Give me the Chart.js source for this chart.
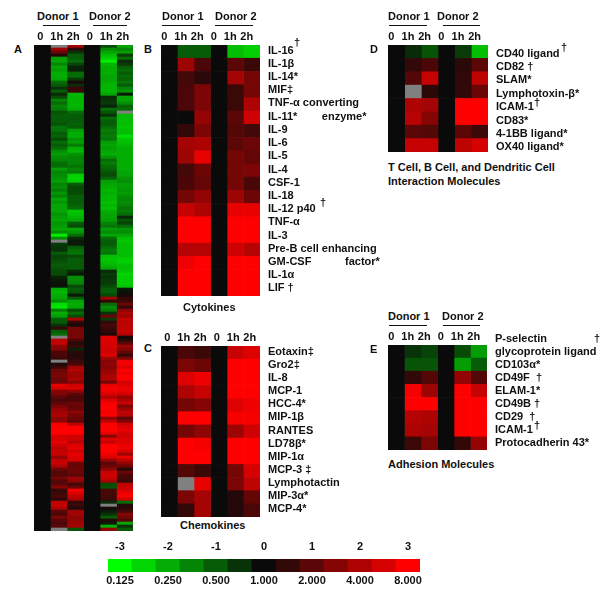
<!DOCTYPE html>
<html>
<head>
<meta charset="utf-8">
<title>Gene expression heat maps</title>
<script src="https://cdn.jsdelivr.net/npm/chart.js@4"></script>
<style>
  html, body { margin: 0; padding: 0; background: #fff; }
  #page { position: relative; width: 600px; height: 600px; overflow: hidden; }
  canvas { position: absolute; }
  .txt { position: absolute; font: bold 11px "Liberation Sans", Arial, sans-serif; color: #111; white-space: pre; line-height: 14px; }
  .rule { position: absolute; height: 1px; background: #111; }
</style>
</head>
<body>
<div id="page"></div>
<script>
// Column headings, repeated for both donors
const timeLabels = ["0", "1h", "2h", "0", "1h", "2h"];

// Panel A: log2 ratio per row (1h and 2h; the 0 columns are the baseline)
const aD1h1 = [
  null,1.8,1.2,.3,-1.8,-1.9,-1.5,-1.9,-1.8,-2,
  -2,-1.9,-1.2,-1,-.5,-1,-.4,-.8,-1.5,-1.2,
  -1.5,-1.4,-.9,-1,-1,-1,-.9,-1.3,-1.3,-1,
  -1.1,-.8,-1.2,-1,-1.2,-1.6,-1.8,-1.6,-1.5,-1.2,
  -1.2,-1.8,-1.5,-1.6,-1.7,-1.8,-1.5,-1.6,-1.4,-1.7,
  -1.5,-1.9,-1.7,-1.9,-1.9,
  -1.9,-1.7,-1.8,-1.9,-1.7,-1.8,-1.9,-1.6,-2.8,-1.6,
  null,-.6,-.5,-.5,-1,-.7,-.8,-.9,-1,-.9,
  -.8,-.8,-.3,-.2,-.1,-.1,-2,-2.1,-2,-1.9,
  -1.6,-2.6,-2.7,-1.4,-2,-1.8,-1,-1,-.5,.5,
  -1,-1.2,null,2.2,2.3,1.6,1.5,.8,.8,.6,
  null,.3,.6,1.2,1.3,1.4,1.2,
  1.2,2.7,2.5,1.5,1.4,1,.8,1,1.4,1.7,
  1.8,2,1.6,1.6,2.9,3,3,3,2.5,2.5,
  2.7,2.4,2.2,2.3,2.3,1.7,2.2,2.3,2,1.2,
  .9,.9,1.3,.9,1,1.5,.5,.6,.8,.4,
  2.2,2.3,2,1,.8,1.4,1,.8,1,null
];
const aD1h2 = [
  1.9,.4,-.5,-1,-1,-1.2,-.7,-.3,-.3,-1.2,
  -1.2,-.6,.2,-.4,.6,.6,-2.1,-2.1,-2.1,-2.1,
  -2.1,-2,-1.2,-1,-1,-1,-1.1,-1,-1.8,-2,
  -2,-1.7,-1.8,-1.4,-2,-2.1,-1.7,-1.5,-1.5,-1.5,
  -1.3,-1.5,-1.4,-2.4,-2.5,-2.4,-1,-.8,-.8,-.8,
  -1,-1,-1,-1.1,-1.2,
  -2.3,-2.2,-2.1,-1.9,-1,-.8,-1.9,-1.7,-1.2,-.4,
  -.2,-.2,-1,-1.2,-1.3,-.8,-1,-1,-1,-1,
  -.4,-.2,-1.6,-1.6,-1.5,-.8,-1,-.9,-.2,-1,
  -1.9,-2,-1.9,-.8,-1.2,-.8,2,.5,.2,1.3,
  1.4,1.3,1.4,.8,.4,.6,-.3,.4,.3,.4,
  .6,.8,1.9,2.1,1.8,1.8,2,
  1.5,2.4,2.6,1.7,1,.8,.8,1.2,1.1,1.2,
  1.6,1.3,1.2,1,2.2,3,3,3,2.4,2.4,
  2.1,2.6,2.7,2.4,2.7,2.6,2.5,1.2,1.1,1.2,
  1.2,1,1.8,1.6,.7,1.2,2.9,2.5,2.2,2,
  .5,.6,.3,1.8,1.9,1.6,1.7,1.8,1.9,-.9
];
const aD2h1 = [
  -.8,-1.6,-1.9,-2.2,-2.4,-2.8,-2.1,-2,-2,-2,
  -1.9,-1.9,-2,-2.1,-2.1,-2.1,-1.9,-.4,-.5,-.6,
  -.3,-1.2,-.9,-.5,-1.2,-1,-1,-1.2,-1.4,-1.3,
  -1.4,-1.3,-1.8,-1.9,-1.8,-1.9,-2,-1.7,-1.2,-1.4,
  -1.2,-1.1,-.9,-.8,-1.1,-1.8,-1.9,-2,-2.1,-2,
  -2.1,-2.1,-2.2,-2.1,-2.2,
  -2,-1.9,-1.9,-1.8,-1.5,-1.3,-1.8,-1.6,-1.9,-1.2,
  -1,-1,-1.2,-1.4,-1.3,-2.2,-2.3,-2.2,-2.1,-1.9,
  -.4,-.6,-.5,-.6,-.6,-.8,-1,-1,-.8,1.8,
  .5,-1.2,-1.6,-1.4,-.5,1.2,-.6,.5,.7,.6,
  .5,.2,2.6,2.6,2.5,2.5,2.4,2.4,2.6,1.8,
  1.5,1.6,1.5,1.7,1.8,2,2,
  1.3,2.7,2.9,2.8,2.5,2,2.6,2.9,3,3,
  2.8,3,1.6,2.2,3,3,3,2.7,1.5,2.6,
  2.3,3,3,3,2.8,2.6,1.7,1,1.2,1.6,
  2.3,2.4,2.3,1.9,-.8,-.9,.8,.7,.7,.6,
  -.4,null,.2,-.2,-.5,-1,.3,-.2,-2,1.6
];
const aD2h2 = [
  -1.9,-1.5,-1.8,-.6,-1.2,-.4,-.6,-1,-1.2,-1,
  -1.2,-1.1,-1.3,-1,-1.5,-1.7,-.2,-1.9,-1.9,-1.6,
  -1.1,-1.2,null,-2.2,-2.2,-2.2,-2.2,-2.3,-2.2,-2.2,
  -2.6,-2.3,-2.2,-2.1,-2,-2,-2,-2,-2,-2,
  -2,-2,-1.9,-1.9,-1.7,-1.6,-1.8,-1.8,-1.7,-1.8,
  -1.6,-1.5,-1.6,-1.5,-1.3,
  -1.4,-1.2,-.4,-.9,-.7,-1.2,-1.7,-1.6,-1.9,-2.2,
  -2.3,-2.2,-2.2,-2.2,-2.2,-2.2,-2.4,-2.4,-2.2,-2.2,
  -2.3,-2.5,-2.4,-2.4,-2.4,-2.3,-.2,-.1,.2,.5,
  .6,1.2,.5,1.6,2,1.8,2.3,2.1,2.2,2.2,
  2.3,2.1,.1,.4,1,1.8,1.5,1.1,.5,1.4,
  2.8,2.9,2.6,3,2.8,3,3,
  2.5,2.6,2.8,2.7,2.4,1.7,2,2.3,1.4,1.8,
  2.2,2.1,1,1.4,2.4,2.6,2.7,2.5,2.4,2.6,
  2.6,2.8,2.8,2.5,1.8,2.7,2.2,1.6,1.2,.3,
  1.2,.8,.7,.6,2.2,2.3,2.5,2.8,2.9,2.4,
  -1.2,.3,.4,.7,1.5,1.3,.9,-1.9,-.5,-1
];

// Panel B: cytokines
const bLabels = ["IL-16", "IL-1β", "IL-14*", "MIF‡", "TNF-α converting", "IL-11*        enzyme*", "IL-9", "IL-6", "IL-5", "IL-4", "CSF-1", "IL-18", "IL-12 p40", "TNF-α", "IL-3", "Pre-B cell enhancing", "GM-CSF           factor*", "IL-1α", "LIF †"];
const bD1h1 = [-1,1.8,.7,.8,.8,0,.5,1.9,1.8,.7,.8,1.3,2.3,3,3,2.1,2.8,3,3];
const bD1h2 = [-1,.8,.4,1.4,1.4,1.7,1.4,2,2.7,1.2,1.1,1.7,2,3,3,2.1,3,3,3];
const bD2h1 = [-2.2,1,1.9,.6,.6,1,.9,1,1.3,1.3,1.3,1.8,2.7,3,3,2.4,3,3,3];
const bD2h2 = [-2.4,.6,1.3,1.3,2,2.4,.7,1.2,1.1,1.4,.8,1.2,2.7,3,3,2.1,3,3,3];

// Panel C: chemokines
const cLabels = ["Eotaxin‡", "Gro2‡", "IL-8", "MCP-1", "HCC-4*", "MIP-1β", "RANTES", "LD78β*", "MIP-1α", "MCP-3 ‡", "Lymphotactin", "MIP-3α*", "MCP-4*"];
const cD1h1 = [.8,1.4,2.6,2,1.3,3,1.3,3,3,.9,null,1.4,.5];
const cD1h2 = [.6,1.2,2.8,2.3,1.5,3,1.6,2.9,3,.6,2.7,1.9,1.9];
const cD2h1 = [2.3,3,3,3,2.6,2.9,1.8,3,3,1.3,1.4,.3,.3];
const cD2h2 = [2.6,3,3,3,2.8,2.9,2.4,3,3,2.5,2.2,1.1,.8];

// Panel D: T cell, B cell and dendritic cell interaction molecules
const dLabels = ["CD40 ligand", "CD82 †", "SLAM*", "Lymphotoxin-β*", "ICAM-1", "CD83*", "4-1BB ligand*", "OX40 ligand*"];
const dD1h1 = [-.4,.5,.9,null,2,2.1,1,2.3];
const dD1h2 = [-.9,.8,2.3,.4,1.9,1.5,.9,2.3];
const dD2h1 = [-.6,.4,.5,.5,3,3,1,2.2];
const dD2h2 = [-2.2,1,2.2,1.2,3,3,.6,2.5];

// Panel E: adhesion molecules
const eLabels = ["glycoprotein ligand", "CD103α*", "CD49F  †", "ELAM-1*", "CD49B †", "CD29  †", "ICAM-1", "Protocadherin 43*"];
const eD1h1 = [-.5,-.9,.5,2.9,3,2.1,2,.6];
const eD1h2 = [-.7,-.9,.9,1.8,3,2,1.9,1.4];
const eD2h1 = [-.8,-1.8,1.7,3,3,3,3,.5];
const eD2h2 = [-1.8,-1,.9,2.3,3,3,3,1.7];

// Colour key
const keySteps = [-3,-2.5,-2,-1.5,-1,-.5,0,.5,1,1.5,2,2.5,3];
const keyLog = ["-3","","-2","","-1","","0","","1","","2","","3"];
const keyFold = ["0.125","","0.250","","0.500","","1.000","","2.000","","4.000","","8.000"];

const page = document.getElementById("page");
Chart.defaults.font.family = '"Liberation Sans", Arial, sans-serif';
Chart.defaults.font.weight = "bold";
Chart.defaults.font.size = 11;
Chart.defaults.color = "#111";
Chart.defaults.animation = false;
Chart.defaults.plugins.legend.display = false;
Chart.defaults.plugins.tooltip.enabled = false;

// Green - black - red scale, missing values grey
function cellColor(v) {
  if (v === null) return "#808080";
  const t = Math.min(Math.abs(v) / 3, 1);
  const hi = Math.round(10 + 245 * t);
  const lo = Math.round(10 * (1 - t));
  return v >= 0 ? `rgb(${hi},${lo},${lo})` : `rgb(${lo},${hi},${lo})`;
}

function addCanvas(left, top, width, height) {
  const c = document.createElement("canvas");
  c.width = width;
  c.height = height;
  c.style.left = left + "px";
  c.style.top = top + "px";
  page.appendChild(c);
  return c;
}

// Heat map = stacked horizontal bars, one dataset per column, each cell one unit wide
function heatmap(box, rowLabels, columns, labelShift, rowShift) {
  const rows = columns[0].length;
  const zeros = new Array(rows).fill(0);
  const all = [zeros, columns[0], columns[1], zeros, columns[2], columns[3]];
  const labels = rowLabels || columns[0].map(() => "");
  return new Chart(addCanvas(box.left, box.top - 20, box.width + box.side, box.height + 20), {
    type: "bar",
    data: {
      labels: labels,
      datasets: all.map(col => ({
        data: col.map(() => 1),
        backgroundColor: col.map(cellColor),
        borderWidth: 0,
        barPercentage: 1,
        categoryPercentage: 1
      }))
    },
    options: {
      indexAxis: "y",
      responsive: false,
      layout: { padding: 0 },
      scales: {
        x: {
          position: "top",
          stacked: true,
          min: 0,
          max: 6,
          border: { display: false },
          grid: { display: false, drawTicks: false },
          afterFit: s => { s.height = 20; s.paddingLeft = 0; s.paddingRight = 0; },
          afterBuildTicks: s => { s.ticks = timeLabels.map((t, i) => ({ value: i + 0.5 })); },
          ticks: {
            autoSkip: false,
            maxRotation: 0,
            padding: 1,
            labelOffset: labelShift,
            callback: (v, i) => timeLabels[i]
          }
        },
        y: {
          display: !!rowLabels,
          position: "right",
          stacked: true,
          border: { display: false },
          grid: { display: false, drawTicks: false },
          // full row height for the cells, no room kept for the end labels
          afterFit: s => { s.width = box.side; s.paddingTop = 0; s.paddingBottom = 0; },
          ticks: { autoSkip: false, padding: 8, labelOffset: rowShift || 0 }
        }
      }
    }
  });
}

heatmap({ left: 34, top: 45, width: 99, height: 486, side: 0 }, null, [aD1h1, aD1h2, aD2h1, aD2h2], -2);
heatmap({ left: 161, top: 45, width: 99, height: 251, side: 125 }, bLabels, [bD1h1, bD1h2, bD2h1, bD2h2], -5, -1);
heatmap({ left: 161, top: 346, width: 99, height: 171, side: 125 }, cLabels, [cD1h1, cD1h2, cD2h1, cD2h2], -2, -1);
heatmap({ left: 388, top: 45, width: 100, height: 107, side: 112 }, dLabels, [dD1h1, dD1h2, dD2h1, dD2h2], -5, 2);
heatmap({ left: 388, top: 345, width: 99, height: 105, side: 113 }, eLabels, [eD1h1, eD1h2, eD2h1, eD2h2], -5);

// Colour key as a one row bar chart with a label axis on each side
new Chart(addCanvas(90, 539, 350, 53), {
  type: "bar",
  data: {
    labels: keyFold,
    datasets: [{
      data: keySteps.map(() => 1),
      backgroundColor: keySteps.map(cellColor),
      borderWidth: 0,
      barPercentage: 1,
      categoryPercentage: 1
    }]
  },
  options: {
    responsive: false,
    layout: { padding: { left: 18, right: 20 } },
    scales: {
      x: {
        position: "bottom",
        border: { display: false },
        grid: { display: false, drawTicks: false },
        afterFit: s => { s.height = 20; },
        ticks: { autoSkip: false, maxRotation: 0, padding: 2 }
      },
      x2: {
        type: "category",
        labels: keyLog,
        offset: true,
        position: "top",
        border: { display: false },
        grid: { display: false, drawTicks: false },
        afterFit: s => { s.height = 20; },
        ticks: { autoSkip: false, maxRotation: 0, padding: 5 }
      },
      y: { display: false, min: 0, max: 1 }
    }
  }
});

// Text around the charts
function text(x, y, str) {
  const d = document.createElement("div");
  d.className = "txt";
  d.style.left = x + "px";
  d.style.top = (y - 7) + "px";
  d.textContent = str;
  page.appendChild(d);
}
function rule(x1, x2, y) {
  const d = document.createElement("div");
  d.className = "rule";
  d.style.left = x1 + "px";
  d.style.top = y + "px";
  d.style.width = (x2 - x1) + "px";
  page.appendChild(d);
}
function donors(x1, x2, y, u1, u2, u3, u4) {
  text(x1, y, "Donor 1");
  text(x2, y, "Donor 2");
  rule(u1, u2, y + 9);
  rule(u3, u4, y + 9);
}

donors(37, 89, 16, 43, 80, 93, 127);
donors(162, 215, 16, 162, 200, 215, 253);
donors(388, 437, 16, 389, 427, 443, 480);
donors(388, 442, 316, 389, 427, 443, 480);

text(14, 49, "A");
text(144, 49, "B");
text(144, 348, "C");
text(370, 49, "D");
text(370, 349, "E");

text(183, 307, "Cytokines");
text(180, 525, "Chemokines");
text(388, 167, "T Cell, B Cell, and Dendritic Cell");
text(388, 181, "Interaction Molecules");
text(388, 464, "Adhesion Molecules");

text(495, 338, "P-selectin");
text(594, 338, "†");
// raised daggers
text(294, 42, "†");
text(320, 202, "†");
text(561, 47, "†");
text(534, 102, "†");
text(534, 425, "†");
</script>
</body>
</html>
